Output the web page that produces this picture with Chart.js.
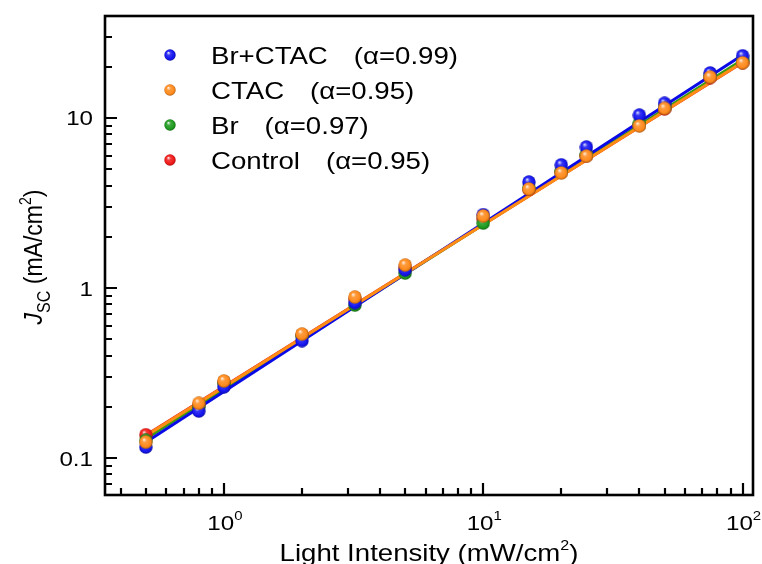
<!DOCTYPE html>
<html>
<head>
<meta charset="utf-8">
<script src="https://cdn.jsdelivr.net/npm/chart.js@4/dist/chart.umd.min.js"></script>
<style>
  html, body { margin: 0; padding: 0; background: #ffffff; }
  #wrap { width: 762px; height: 564px; }
</style>
</head>
<body>
<div id="wrap"><canvas id="c" width="762" height="564"></canvas></div>
<script>
// ---------------- data ----------------
const intensity = [0.5, 0.8, 1, 2, 3.2, 5, 10, 15, 20, 25, 40, 50, 75, 100];
const brCtac  = [0.116, 0.189, 0.262, 0.49, 0.82, 1.28, 2.7, 4.2, 5.3, 6.75, 10.4, 12.2, 18.4, 23.2];
const ctac    = [0.124, 0.21, 0.284, 0.536, 0.885, 1.365, 2.65, 3.82, 4.75, 5.97, 8.98, 11.4, 17.4, 21.1];
const br      = [0.127, 0.2, 0.275, 0.52, 0.794, 1.225, 2.41, 3.9, 4.9, 6.1, 9.3, 11.6, 17.8, 22.0];
const control = [0.137, 0.205, 0.28, 0.53, 0.86, 1.32, 2.55, 3.8, 4.8, 6.0, 9.1, 11.3, 17.3, 21.2];

// fitted power-law lines: end points
const fitX        = [0.5, 100];
const brCtacFit   = [0.124, 23.5];
const ctacFit     = [0.135, 21.3];
const brFit       = [0.130, 22.0];
const controlFit  = [0.136, 21.2];

const seriesNames = ['Br+CTAC', 'CTAC', 'Br', 'Control'];
const alphaTexts  = ['(\u03B1=0.99)', '(\u03B1=0.95)', '(\u03B1=0.97)', '(\u03B1=0.95)'];

const xMajorTicks = [1, 10, 100];
const xTickExponents = ['0', '1', '2'];
const yMajorTicks = [0.1, 1, 10];
const yTickLabels = ['0.1', '1', '10'];

// ---------------- styles ----------------
const pointColors = ['#1414f0', '#ff8a1c', '#1e9a1e', '#f01818'];
const lineColors  = ['#0a0ae6', '#ff8c14', '#3a9a10', '#e82020'];
const FONT = '"Liberation Sans", Arial, sans-serif';
const STRETCH = 1.15;

function shade(hex, f) {
  const n = parseInt(hex.slice(1), 16);
  let r = (n >> 16) & 255, g = (n >> 8) & 255, b = n & 255;
  if (f >= 0) { r += (255 - r) * f; g += (255 - g) * f; b += (255 - b) * f; }
  else { r *= (1 + f); g *= (1 + f); b *= (1 + f); }
  return 'rgb(' + Math.round(r) + ',' + Math.round(g) + ',' + Math.round(b) + ')';
}
function sphere(color, d) {
  const cv = document.createElement('canvas');
  cv.width = d; cv.height = d;
  const c = cv.getContext('2d');
  const r = d / 2;
  const g = c.createRadialGradient(r * 0.72, r * 0.62, 0.3, r, r, r);
  g.addColorStop(0, shade(color, 0.85));
  g.addColorStop(0.3, shade(color, 0.15));
  g.addColorStop(0.75, color);
  g.addColorStop(1, shade(color, -0.35));
  c.fillStyle = g;
  c.beginPath(); c.arc(r, r, r - 0.3, 0, Math.PI * 2); c.fill();
  return cv;
}
const sphereImgs = pointColors.map(c => sphere(c, 14));
const legendImgs = pointColors.map(c => sphere(c, 12));

const seriesY = [brCtac, ctac, br, control];
const fits = [brCtacFit, ctacFit, brFit, controlFit];
// lower order = drawn on top
const pointOrder = [2, 1, 3, 4];
const lineOrder = [12, 11, 13, 14];

const datasets = [];
seriesY.forEach((ys, i) => {
  datasets.push({
    type: 'line',
    label: seriesNames[i] + ' fit',
    data: fitX.map((x, k) => ({ x: x, y: fits[i][k] })),
    borderColor: lineColors[i],
    borderWidth: 3,
    pointRadius: 0,
    fill: false,
    order: lineOrder[i]
  });
  datasets.push({
    type: 'scatter',
    label: seriesNames[i],
    data: intensity.map((x, k) => ({ x: x, y: ys[k] })),
    pointStyle: sphereImgs[i],
    pointRadius: 7,
    showLine: false,
    order: pointOrder[i]
  });
});

// ---------------- text helpers ----------------
function segWidth(ctx, segs) {
  let w = 0;
  segs.forEach(s => { ctx.font = s.font; w += ctx.measureText(s.t).width; });
  return w;
}
function drawSegs(ctx, segs, x, y, align) {
  ctx.save();
  ctx.translate(x, y);
  ctx.scale(STRETCH, 1);
  const w = segWidth(ctx, segs);
  let cx = align === 'center' ? -w / 2 : (align === 'right' ? -w : 0);
  ctx.textAlign = 'left';
  ctx.textBaseline = 'alphabetic';
  segs.forEach(s => {
    ctx.font = s.font;
    ctx.fillText(s.t, cx, s.dy || 0);
    cx += ctx.measureText(s.t).width;
  });
  ctx.restore();
}

const decor = {
  id: 'decor',
  afterDraw(chart) {
    const ctx = chart.ctx;
    const a = chart.chartArea;
    const xs = chart.scales.x, ys = chart.scales.y;
    ctx.save();
    ctx.fillStyle = '#000';
    ctx.strokeStyle = '#000';

    // inward ticks
    ctx.lineWidth = 2.2;
    ctx.beginPath();
    const xMinor = [];
    [0.1, 1, 10].forEach(d => { for (let m = 2; m <= 9; m++) xMinor.push(m * d); });
    xMinor.forEach(v => {
      if (v <= xs.min || v >= xs.max) return;
      const px = Math.round(xs.getPixelForValue(v));
      ctx.moveTo(px, a.bottom); ctx.lineTo(px, a.bottom - 7);
    });
    xMajorTicks.forEach(v => {
      const px = Math.round(xs.getPixelForValue(v));
      ctx.moveTo(px, a.bottom); ctx.lineTo(px, a.bottom - 12);
    });
    const yMinor = [];
    [0.01, 0.1, 1, 10].forEach(d => { for (let m = 2; m <= 9; m++) yMinor.push(m * d); });
    yMinor.forEach(v => {
      if (v <= ys.min || v >= ys.max) return;
      const py = Math.round(ys.getPixelForValue(v));
      ctx.moveTo(a.left, py); ctx.lineTo(a.left + 7, py);
    });
    yMajorTicks.forEach(v => {
      const py = Math.round(ys.getPixelForValue(v));
      ctx.moveTo(a.left, py); ctx.lineTo(a.left + 12, py);
    });
    ctx.stroke();

    // frame
    ctx.lineWidth = 2.6;
    ctx.strokeRect(a.left, a.top, a.right - a.left, a.bottom - a.top);

    // x tick labels 10^n
    xMajorTicks.forEach((v, i) => {
      const px = xs.getPixelForValue(v);
      drawSegs(ctx, [
        { t: '10', font: '21px ' + FONT },
        { t: xTickExponents[i], font: '13px ' + FONT, dy: -10 }
      ], px + 1, 530, 'center');
    });
    // y tick labels
    yMajorTicks.forEach((v, i) => {
      const py = ys.getPixelForValue(v);
      drawSegs(ctx, [{ t: yTickLabels[i], font: '21px ' + FONT }], a.left - 12, py + 7.5, 'right');
    });

    // x title
    drawSegs(ctx, [
      { t: 'Light Intensity (mW/cm', font: '24px ' + FONT },
      { t: '2', font: '14px ' + FONT, dy: -11 },
      { t: ')', font: '24px ' + FONT }
    ], (a.left + a.right) / 2, 561, 'center');

    // y title (rotated; stretch applies across glyph height)
    const ySegs = [
      { t: 'J', font: 'italic 23px ' + FONT },
      { t: 'SC', font: '16px ' + FONT, dy: 7 },
      { t: ' (mA/cm', font: '23px ' + FONT },
      { t: '2', font: '14px ' + FONT, dy: -10 },
      { t: ')', font: '23px ' + FONT }
    ];
    ctx.save();
    ctx.translate(42, 257);
    ctx.rotate(-Math.PI / 2);
    ctx.scale(1, STRETCH);
    const w = segWidth(ctx, ySegs);
    let cx = -w / 2;
    ctx.textAlign = 'left';
    ctx.textBaseline = 'alphabetic';
    ySegs.forEach(s => {
      ctx.font = s.font;
      ctx.fillText(s.t, cx, s.dy || 0);
      cx += ctx.measureText(s.t).width;
    });
    ctx.restore();

    // legend
    seriesNames.forEach((name, i) => {
      const cy = 55 + 35 * i;
      ctx.drawImage(legendImgs[i], 170 - 6, cy - 6);
      ctx.font = '24px ' + FONT;
      const nw = ctx.measureText(name).width * STRETCH;
      drawSegs(ctx, [{ t: name, font: '24px ' + FONT }], 211, cy + 9, 'left');
      drawSegs(ctx, [{ t: alphaTexts[i], font: '24px ' + FONT }], 211 + nw + 26, cy + 9, 'left');
    });

    ctx.restore();
  }
};

new Chart(document.getElementById('c'), {
  type: 'scatter',
  data: { datasets: datasets },
  options: {
    responsive: false,
    devicePixelRatio: 1,
    animation: false,
    layout: { padding: { left: 105, top: 16, right: 9, bottom: 69 } },
    scales: {
      x: { type: 'logarithmic', bounds: 'data', min: 0.348, max: 109.7, display: false },
      y: { type: 'logarithmic', bounds: 'data', min: 0.0606, max: 39.8, display: false }
    },
    plugins: { legend: { display: false }, tooltip: { enabled: false } }
  },
  plugins: [decor]
});
</script>
</body>
</html>
